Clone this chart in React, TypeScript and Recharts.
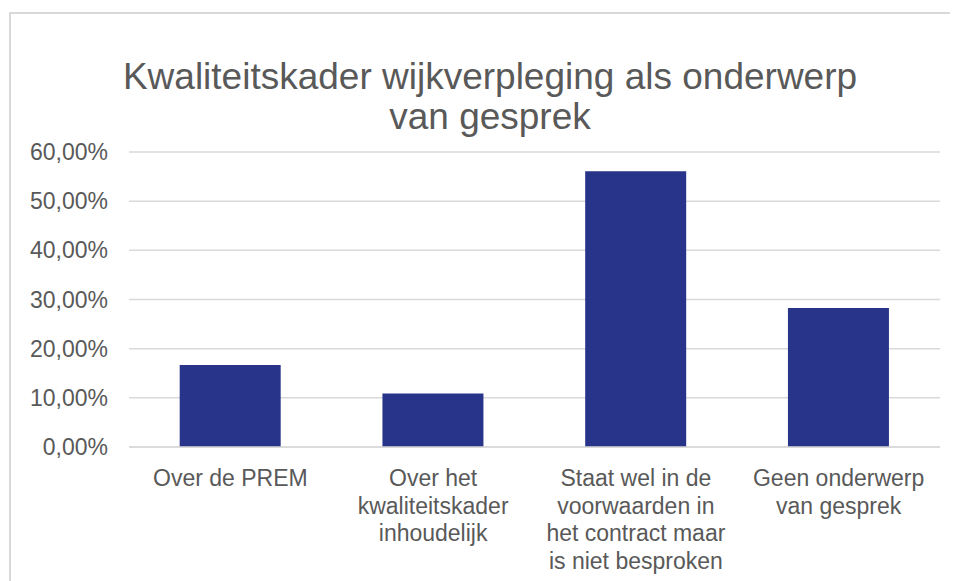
import { BarChart, Bar, XAxis, YAxis, CartesianGrid } from 'recharts';

const titleLines = ['Kwaliteitskader wijkverpleging als onderwerp', 'van gesprek'];

// category labels, already broken into lines like the original
const categories = [
  'Over de PREM',
  'Over het\nkwaliteitskader\ninhoudelijk',
  'Staat wel in de\nvoorwaarden in\nhet contract maar\nis niet besproken',
  'Geen onderwerp\nvan gesprek',
];
const shares = [0.1667, 0.1088, 0.561, 0.2826];
const yTicks = [0, 0.1, 0.2, 0.3, 0.4, 0.5, 0.6];

const data = categories.map((name, i) => ({ name, value: shares[i] }));

const FONT = '"Liberation Sans", Arial, sans-serif';
const TEXT = '#595959';
const GRID = '#d9d9d9';

const pct = (v: number) => `${(v * 100).toFixed(2).replace('.', ',')}%`;

const CategoryTick = ({ x, y, payload }: any) => {
  const lines = String(payload.value).split('\n');
  return (
    <text x={x} y={y + 31} textAnchor="middle" fill={TEXT} fontSize={23} fontFamily={FONT}>
      {lines.map((l, i) => (
        <tspan key={i} x={x} dy={i === 0 ? 0 : 27.5}>
          {l}
        </tspan>
      ))}
    </text>
  );
};

const ValueTick = ({ x, y, payload }: any) => (
  <text x={x} y={y + 8} textAnchor="end" fill={TEXT} fontSize={23} fontFamily={FONT}>
    {pct(payload.value)}
  </text>
);

export default function App() {
  return (
    <div style={{ position: 'relative', width: 950, height: 573, overflow: 'hidden', fontFamily: FONT }}>
      <style>{'html, body { overflow: hidden; }'}</style>
      {/* chart frame: only the top and left edges fall inside the picture */}
      <div
        style={{
          position: 'absolute',
          left: 1,
          top: 4,
          right: 0,
          bottom: 0,
          borderTop: `2px solid ${GRID}`,
          borderLeft: `2px solid ${GRID}`,
        }}
      />
      <div
        style={{
          position: 'absolute',
          left: 0,
          top: 49,
          width: 964,
          textAlign: 'center',
          color: TEXT,
          fontSize: 37,
          lineHeight: '40px',
        }}
      >
        {titleLines.map((t) => (
          <div key={t}>{t}</div>
        ))}
      </div>
      <div style={{ position: 'absolute', left: 0, top: 0 }}>
        <BarChart
          width={950}
          height={573}
          data={data}
          margin={{ top: 144, right: 18, left: 0, bottom: 0 }}
          barCategoryGap="25%"
        >
          <CartesianGrid vertical={false} stroke={GRID} strokeWidth={1.5} />
          <XAxis
            dataKey="name"
            interval={0}
            height={134}
            axisLine={{ stroke: GRID, strokeWidth: 1.5 }}
            tickLine={false}
            tick={<CategoryTick />}
          />
          <YAxis
            width={121}
            domain={[0, 0.6]}
            ticks={yTicks}
            axisLine={false}
            tickLine={false}
            tickSize={0}
            tickMargin={21}
            tick={<ValueTick />}
          />
          <Bar dataKey="value" fill="#283489" isAnimationActive={false} />
        </BarChart>
      </div>
    </div>
  );
}
